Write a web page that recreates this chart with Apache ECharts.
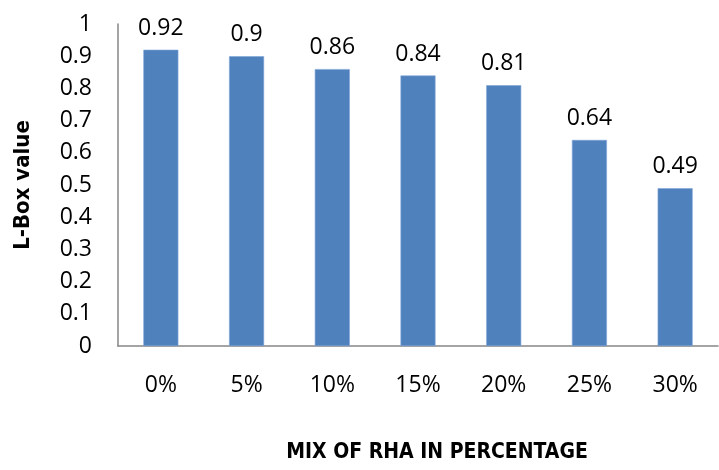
<!DOCTYPE html>
<html>
<head>
<meta charset="utf-8">
<script src="https://cdn.jsdelivr.net/npm/echarts@6/dist/echarts.min.js"></script>
<style>html,body{margin:0;padding:0;background:#fff}#c{width:719px;height:470px}</style>
</head>
<body>
<div id="c"></div>
<script>
const categories = ['0%', '5%', '10%', '15%', '20%', '25%', '30%'];
const lboxValues = [0.92, 0.9, 0.86, 0.84, 0.81, 0.64, 0.49];
const xTitle = 'MIX OF RHA IN PERCENTAGE';
const yTitle = 'L-Box value';

const chart = echarts.init(document.getElementById('c'), null, {renderer: 'canvas'});
const tickFont = 'Open Sans';
const titleFont = '"DejaVu Sans Condensed", "Liberation Sans", sans-serif';
chart.setOption({
  animation: false,
  backgroundColor: '#fff',
  grid: {left: 118, right: 1, top: 24, bottom: 124},
  xAxis: {
    type: 'category',
    data: categories,
    axisLine: {lineStyle: {color: '#868686', width: 1.5}},
    axisTick: {show: false},
    axisLabel: {color: '#000', fontFamily: tickFont, fontSize: 23, margin: 28},
    name: xTitle,
    nameLocation: 'middle',
    nameGap: 96,
    nameTextStyle: {color: '#000', fontFamily: titleFont, fontWeight: 'bold', fontSize: 21, padding: [0, 0, 0, 38]}
  },
  yAxis: {
    type: 'value',
    min: 0, max: 1, interval: 0.1,
    axisLine: {show: true, lineStyle: {color: '#868686', width: 1.5}},
    axisTick: {show: false},
    splitLine: {show: false},
    axisLabel: {color: '#000', fontFamily: tickFont, fontSize: 23, margin: 26,
      formatter: v => String(Math.round(v * 10) / 10)},
    name: yTitle,
    nameLocation: 'middle',
    nameGap: 84,
    nameRotate: 90,
    nameTextStyle: {color: '#000', fontFamily: titleFont, fontWeight: 'bold', fontSize: 22, padding: [0, 0, 0, 0]}
  },
  series: [{
    type: 'bar',
    data: lboxValues,
    barWidth: 35,
    itemStyle: {color: '#4F81BD', borderColor: '#7EA5D6', borderWidth: 0.6},
    label: {show: true, position: 'top', distance: 10, color: '#000', fontFamily: tickFont, fontSize: 23}
  }]
});
</script>
</body>
</html>
